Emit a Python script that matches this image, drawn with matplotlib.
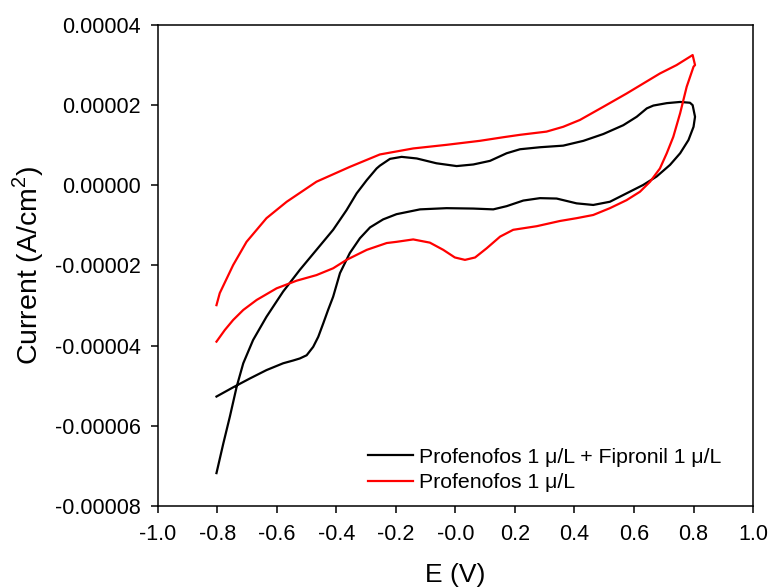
import numpy as np
import matplotlib
matplotlib.use("Agg")
import matplotlib.pyplot as plt
from matplotlib.ticker import FuncFormatter, FormatStrFormatter

plt.rcParams['font.family'] = ['Liberation Sans', 'DejaVu Sans']
plt.rcParams['mathtext.fontset'] = 'custom'
plt.rcParams['mathtext.rm'] = 'Liberation Sans'
plt.rcParams['axes.unicode_minus'] = False

# ---- data (current in 1e-5 A/cm2) ----
# Profenofos + Fipronil (black): forward sweep, then back
e_mix = [-0.803, -0.747, -0.691, -0.635, -0.579, -0.545, -0.523, -0.500, -0.478, -0.461,
         -0.444, -0.428, -0.411, -0.388, -0.355, -0.321, -0.287, -0.243, -0.198, -0.119,
         -0.030, 0.060, 0.127, 0.172, 0.228, 0.284, 0.340, 0.407, 0.463, 0.519,
         0.575, 0.631, 0.676, 0.721, 0.755, 0.783, 0.800, 0.805, 0.797, 0.788,
         0.755, 0.710, 0.665, 0.643, 0.609, 0.564, 0.497, 0.430, 0.362, 0.284,
         0.217, 0.172, 0.116, 0.060, 0.004, -0.064, -0.130, -0.181, -0.220, -0.254,
         -0.265, -0.298, -0.332, -0.366, -0.411, -0.467, -0.523, -0.579, -0.635, -0.680,
         -0.713, -0.735, -0.758, -0.780, -0.803]
i_mix = [-5.27, -5.04, -4.82, -4.61, -4.44, -4.37, -4.32, -4.24, -4.03, -3.78,
         -3.44, -3.11, -2.78, -2.19, -1.69, -1.32, -1.05, -0.85, -0.72, -0.60,
         -0.57, -0.58, -0.60, -0.52, -0.38, -0.32, -0.33, -0.45, -0.49, -0.41,
         -0.20, 0.01, 0.22, 0.51, 0.80, 1.13, 1.46, 1.71, 2.00, 2.06,
         2.08, 2.05, 1.99, 1.92, 1.71, 1.50, 1.28, 1.11, 0.99, 0.95,
         0.90, 0.80, 0.61, 0.52, 0.48, 0.55, 0.67, 0.71, 0.66, 0.49,
         0.42, 0.13, -0.20, -0.62, -1.11, -1.61, -2.11, -2.65, -3.28, -3.86,
         -4.44, -5.02, -5.77, -6.44, -7.18]

# Profenofos only (red)
e_pro = [-0.803, -0.775, -0.747, -0.713, -0.668, -0.601, -0.534, -0.467, -0.411, -0.366,
         -0.298, -0.231, -0.198, -0.142, -0.086, -0.041, -0.002, 0.032, 0.066, 0.105,
         0.150, 0.194, 0.273, 0.351, 0.407, 0.463, 0.519, 0.575, 0.620, 0.654,
         0.687, 0.710, 0.732, 0.755, 0.777, 0.800, 0.805, 0.797,
         0.743, 0.687, 0.631, 0.575, 0.497, 0.418, 0.362, 0.306, 0.217, 0.161,
         0.082, -0.030, -0.142, -0.254, -0.355, -0.467, -0.567, -0.635, -0.702, -0.747,
         -0.792, -0.803]
i_pro = [-3.90, -3.61, -3.36, -3.11, -2.86, -2.57, -2.38, -2.24, -2.07, -1.86,
         -1.61, -1.44, -1.41, -1.35, -1.43, -1.61, -1.80, -1.86, -1.80, -1.57,
         -1.28, -1.11, -1.02, -0.89, -0.82, -0.74, -0.57, -0.37, -0.16, 0.09,
         0.42, 0.80, 1.21, 1.80, 2.46, 2.96, 3.00, 3.25,
         3.00, 2.79, 2.54, 2.29, 1.96, 1.63, 1.46, 1.34, 1.26, 1.20,
         1.11, 1.01, 0.92, 0.77, 0.46, 0.09, -0.41, -0.82, -1.41, -1.99,
         -2.69, -2.99]

labels = ["Profenofos 1 \u03bc/L + Fipronil 1 \u03bc/L", "Profenofos 1 \u03bc/L"]


def y_fmt(v, pos):
    s = "%.5f" % v
    if s == "-0.00000":
        s = "0.00000"
    return s


fig = plt.figure(figsize=(7.7, 5.88), dpi=100)
ax = fig.add_axes([0.205, 0.1395, 0.773, 0.818])

ax.plot(e_mix, np.array(i_mix) * 1e-5, color='black', lw=1.6,
        solid_joinstyle='round', label=labels[0])
ax.plot(e_pro, np.array(i_pro) * 1e-5, color='red', lw=1.6,
        solid_joinstyle='round', label=labels[1])

ax.set_xlim(-1.0, 1.0)
ax.set_ylim(-0.00008, 0.00004)
ax.set_xticks(np.arange(-1.0, 1.01, 0.2))
ax.set_yticks(np.arange(-0.00008, 0.000041, 0.00002))
ax.xaxis.set_major_formatter(FormatStrFormatter('%.1f'))
ax.yaxis.set_major_formatter(FuncFormatter(y_fmt))
ax.tick_params(direction='out', length=5, width=1.1, labelsize=15.5)
ax.tick_params(axis='x', pad=8)
ax.tick_params(axis='y', pad=7)

for s in ax.spines.values():
    s.set_linewidth(1.1)

ax.set_xlabel("E (V)", fontsize=19, labelpad=13)
ax.set_ylabel("Current (A/cm$^2$)", fontsize=20.5, labelpad=7)

ax.legend(loc='center left', bbox_to_anchor=(0.353, 0.075), frameon=False,
          fontsize=15.3, handlelength=2.1, handletextpad=0.3, labelspacing=0.3,
          borderaxespad=0, borderpad=0)

fig.savefig("out.png", dpi=100)
